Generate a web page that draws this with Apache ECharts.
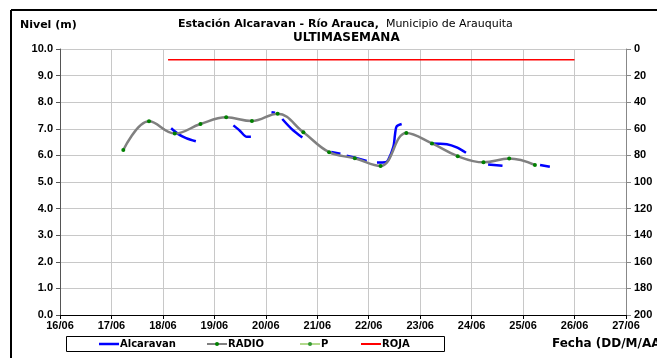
<!DOCTYPE html>
<html>
<head>
<meta charset="utf-8">
<script src="https://cdn.jsdelivr.net/npm/echarts@6/dist/echarts.min.js"></script>
<style>html,body{margin:0;padding:0;background:#fff}#c{width:657px;height:358px}</style>
</head>
<body>
<div id="c"></div>
<script>
// x values are days of June
const xTicks = [16,17,18,19,20,21,22,23,24,25,26,27];
const leftTicks = [0,1,2,3,4,5,6,7,8,9,10];
const rightTicks = [0,20,40,60,80,100,120,140,160,180,200];

const radioDays = [17.23,17.73,18.23,18.73,19.23,19.73,20.23,20.73,21.23,21.73,22.23,22.73,23.23,23.73,24.23,24.73,25.23];
const radioVals = [6.20,7.28,6.82,7.18,7.43,7.29,7.57,6.87,6.12,5.89,5.60,6.84,6.45,5.97,5.74,5.88,5.64];

const alcaravanSegments = [
  [[18.16,7.02],[18.30,6.80],[18.45,6.65],[18.64,6.53]],
  [[19.37,7.13],[19.50,6.92],[19.63,6.70],[19.71,6.70]],
  [[20.11,7.62],[20.18,7.60]],
  [[20.32,7.37],[20.50,7.00],[20.71,6.67]],
  [[21.27,6.13],[21.45,6.06]],
  [[21.57,5.99],[21.75,5.90],[21.96,5.79]],
  [[22.16,5.73],[22.33,5.74],[22.38,5.83],[22.48,6.33],[22.51,6.77],[22.54,7.08],[22.64,7.18]],
  [[23.19,6.45],[23.52,6.42],[23.71,6.30],[23.89,6.10]],
  [[24.32,5.66],[24.60,5.61]],
  [[25.33,5.64],[25.52,5.57]]
];

const rojaDays = [18.10, 26.00];
const rojaVals = [9.6, 9.6];

const legendNames = ['Alcaravan','RADIO','P','ROJA'];

const alcData = [];
alcaravanSegments.forEach((s,i)=>{ if(i>0) alcData.push([null,null]); s.forEach(p=>alcData.push(p)); });

const chart = echarts.init(document.getElementById('c'), null, {renderer:'canvas'});
const fontBold = {fontFamily:'Liberation Sans, Arial, sans-serif', fontWeight:'bold', fontSize:11, color:'#000'};
const DJ = '"DejaVu Sans", sans-serif';

// manual legend (inside a bordered box)
const legendItems = [
  {name:legendNames[0], x:99,  color:'#0000ff', w:2.5, dot:null},
  {name:legendNames[1], x:207, color:'#808080', w:2,   dot:'#008000'},
  {name:legendNames[2], x:300, color:'#99cc66', w:1.5, dot:'#339933'},
  {name:legendNames[3], x:361, color:'#ff0000', w:2,   dot:null}
];
const legendGraphics = [];
legendItems.forEach(it=>{
  legendGraphics.push({type:'line', shape:{x1:it.x, y1:344, x2:it.x+20, y2:344}, style:{stroke:it.color, lineWidth:it.w}});
  if(it.dot) legendGraphics.push({type:'circle', shape:{cx:it.x+10, cy:344, r:2}, style:{fill:it.dot}});
  legendGraphics.push({type:'text', x:it.x+21, y:344, style:{text:it.name, font:'bold 10px '+DJ, fill:'#000', textVerticalAlign:'middle', verticalAlign:'middle'}});
});

chart.setOption({
  animation:false,
  backgroundColor:'#fff',
  grid:{left:60, right:31, top:49, bottom:43},
  xAxis:{
    type:'value', min:16, max:27, interval:1,
    axisLine:{show:true, lineStyle:{color:'#000', width:1}},
    axisTick:{show:true, length:4, lineStyle:{color:'#000'}},
    axisLabel:Object.assign({margin:5, formatter:v=>String(v).padStart(2,'0')+'/06'}, fontBold),
    splitLine:{show:true, lineStyle:{color:'#c8c8c8', width:1}}
  },
  yAxis:[{
    type:'value', min:0, max:10, interval:1, position:'left',
    axisLine:{show:true, lineStyle:{color:'#555', width:1}},
    axisTick:{show:true, length:4, lineStyle:{color:'#555'}},
    axisLabel:Object.assign({margin:7, formatter:v=>v.toFixed(1)}, fontBold),
    splitLine:{show:true, lineStyle:{color:'#c8c8c8', width:1}}
  },{
    type:'value', min:0, max:200, interval:20, position:'right', inverse:true,
    axisLine:{show:true, lineStyle:{color:'#888', width:1}},
    axisTick:{show:true, length:5, lineStyle:{color:'#888'}},
    axisLabel:Object.assign({margin:8}, fontBold),
    splitLine:{show:false}
  }],
  legend:{show:false},
  graphic:[
    {type:'line', shape:{x1:11,y1:10,x2:657,y2:10}, style:{stroke:'#000', lineWidth:2}},
    {type:'line', shape:{x1:11,y1:10,x2:11,y2:358}, style:{stroke:'#000', lineWidth:2}},
    {type:'rect', shape:{x:66.5,y:336.5,width:378,height:15}, style:{fill:'none', stroke:'#000', lineWidth:1}, z:-1},
    {type:'text', left:20, top:20, style:{text:'Nivel (m)', font:'bold 11px '+DJ, fill:'#000'}},
    {type:'text', left:552, top:338, style:{text:'Fecha (DD/M/AA)', font:'bold 12px '+DJ, fill:'#000'}},
    {type:'text', left:178, top:19, style:{
      rich:{b:{font:'bold 11px '+DJ, fill:'#000'}, n:{font:'11px '+DJ, fill:'#000'}},
      text:'{b|Estación Alcaravan - Río Arauca,}{n|  Municipio de Arauquita}'
    }},
    {type:'text', left:293, top:32, style:{text:'ULTIMASEMANA', font:'bold 12px '+DJ, fill:'#000'}}
  ].concat(legendGraphics),
  series:[
    {name:'Alcaravan', type:'line', data:alcData, connectNulls:false, smooth:0.3, symbol:'none',
     lineStyle:{color:'#0000ff', width:2.5}, itemStyle:{color:'#0000ff'}, z:3},
    {name:'RADIO', type:'line', data:radioDays.map((d,i)=>[d,radioVals[i]]), smooth:0.4, symbol:'circle', symbolSize:4,
     lineStyle:{color:'#808080', width:2.5}, itemStyle:{color:'#008000', borderWidth:0}, z:4},
    {name:'P', type:'line', data:[], symbol:'circle', symbolSize:4,
     lineStyle:{color:'#99cc66', width:1.5}, itemStyle:{color:'#339933'}},
    {name:'ROJA', type:'line', data:rojaDays.map((d,i)=>[d,rojaVals[i]]), symbol:'none',
     lineStyle:{color:'#ff0000', width:1.5}, itemStyle:{color:'#ff0000'}, z:2}
  ]
});
</script>
</body>
</html>
